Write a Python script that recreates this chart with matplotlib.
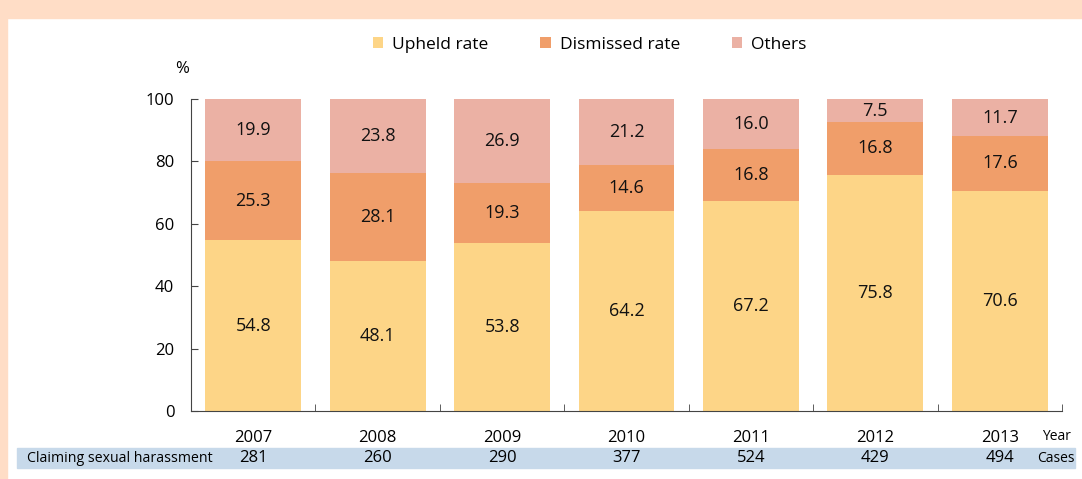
import numpy as np
import matplotlib.pyplot as plt
from matplotlib.patches import Rectangle
from matplotlib.transforms import blended_transform_factory

years = ['2007', '2008', '2009', '2010', '2011', '2012', '2013']
upheld = [54.8, 48.1, 53.8, 64.2, 67.2, 75.8, 70.6]
dismissed = [25.3, 28.1, 19.3, 14.6, 16.8, 16.8, 17.6]
others = [19.9, 23.8, 26.9, 21.2, 16.0, 7.5, 11.7]
cases = [281, 260, 290, 377, 524, 429, 494]

c_up = '#FDD587'
c_dis = '#F09E6A'
c_oth = '#EBB1A4'

plt.rcParams['font.family'] = ['Open Sans', 'DejaVu Sans']

fig = plt.figure(figsize=(10.82, 4.79), dpi=100)
# peach frame
fig.patches.append(Rectangle((0, 1 - 18 / 479), 1, 18 / 479, transform=fig.transFigure,
                             color='#FFDDC6', zorder=0))
fig.patches.append(Rectangle((0, 0), 7 / 1082, 1, transform=fig.transFigure,
                             color='#FFDDC6', zorder=0))
# cases row background
fig.patches.append(Rectangle((17 / 1082, 1 - 468 / 479), (1075 - 17) / 1082, 20 / 479,
                             transform=fig.transFigure, color='#C7D9EA', zorder=0))

ax = fig.add_axes([191 / 1082, 1 - 411 / 479, 871 / 1082, 312 / 479])
x = np.arange(len(years))
w = 0.77
b1 = ax.bar(x, upheld, w, color=c_up, label='Upheld rate')
b2 = ax.bar(x, dismissed, w, bottom=upheld, color=c_dis, label='Dismissed rate')
bot3 = np.array(upheld) + np.array(dismissed)
b3 = ax.bar(x, others, w, bottom=bot3, color=c_oth, label='Others')

for bars, vals in ((b1, upheld), (b2, dismissed), (b3, others)):
    ax.bar_label(bars, labels=[f'{v:.1f}' for v in vals], label_type='center',
                 fontsize=13, color='#111111')

ax.set_xlim(-0.5, len(years) - 0.5)
ax.set_ylim(0, 100)
ax.set_yticks([0, 20, 40, 60, 80, 100])
ax.set_xticks(x)
ax.set_xticklabels(years)
ax.set_xticks(np.arange(-0.5, len(years), 1), minor=True)
ax.tick_params(axis='x', which='major', length=0, pad=14, labelsize=12)
ax.tick_params(axis='x', which='minor', direction='in', length=5, color='#444444')
ax.tick_params(axis='y', direction='in', length=5, color='#444444', labelsize=12, pad=12)
for s in ('top', 'right'):
    ax.spines[s].set_visible(False)
for s in ('left', 'bottom'):
    ax.spines[s].set_color('#444444')

ax.text(-0.52, 107, '%', fontsize=12, ha='right', va='bottom')

fig.legend(handles=[b1, b2, b3], loc='center', bbox_to_anchor=(0.545, 1 - 45 / 479),
           ncol=3, frameon=False, fontsize=12.5, handlelength=0.6, handleheight=0.6,
           columnspacing=3.0, handletextpad=0.5)

# bottom rows
trans = blended_transform_factory(ax.transData, fig.transFigure)
for xi, n in zip(x, cases):
    fig.text(xi, 1 - 458 / 479, str(n), transform=trans, ha='center', va='center',
             fontsize=12)
fig.text(1056 / 1082, 1 - 436 / 479, 'Year', ha='center', va='center', fontsize=10)
fig.text(1056 / 1082, 1 - 458 / 479, 'Cases', ha='center', va='center', fontsize=10)
fig.text(27 / 1082, 1 - 458 / 479, 'Claiming sexual harassment', ha='left', va='center',
         fontsize=10.2)

fig.savefig('out.png', dpi=100)
